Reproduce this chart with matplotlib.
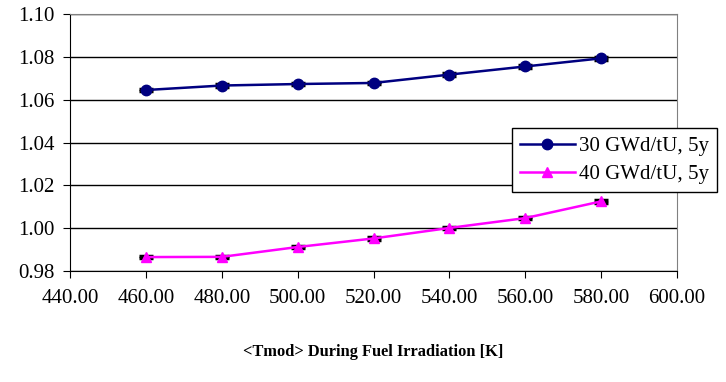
import matplotlib.pyplot as plt
from matplotlib.ticker import FormatStrFormatter

plt.rcParams['font.family'] = ['Liberation Serif', 'DejaVu Serif']

temps = [460, 480, 500, 520, 540, 560, 580]
k30 = [1.0645, 1.0666, 1.0673, 1.0678, 1.0717, 1.0755, 1.0793]
k40 = [0.9865, 0.9866, 0.9912, 0.9952, 1.0001, 1.0047, 1.0125]
err = 0.0006

fig = plt.figure(figsize=(7.26, 3.82), dpi=100)
ax = fig.add_axes([70 / 726, 1 - 271 / 382, 607 / 726, 257 / 382])

ax.errorbar(temps, k30, yerr=err, color='#000080', marker='o', markersize=7.5, lw=1.8,
            ecolor='black', elinewidth=1, capsize=5, capthick=2.5, label='30 GWd/tU, 5y', zorder=3)
ax.errorbar(temps, k40, yerr=err, color='#ff00ff', marker='^', markersize=7.5, lw=1.8,
            ecolor='black', elinewidth=1, capsize=5, capthick=2.5, label='40 GWd/tU, 5y', zorder=3)

ax.set_xlim(440, 600)
ax.set_ylim(0.98, 1.10)
ax.set_xticks(range(440, 601, 20))
ax.set_yticks([0.98, 1.00, 1.02, 1.04, 1.06, 1.08, 1.10])
ax.xaxis.set_major_formatter(FormatStrFormatter('%.2f'))
ax.yaxis.set_major_formatter(FormatStrFormatter('%.2f'))
ax.grid(axis='y', color='black', lw=1)
ax.tick_params(labelsize=15, direction='out', length=5, color='black')
ax.tick_params(axis='x', pad=8)
ax.tick_params(axis='y', pad=6)
for s in ['top', 'right']:
    ax.spines[s].set_color('#808080')
for s in ['left', 'bottom']:
    ax.spines[s].set_color('black')

handles, labels = ax.get_legend_handles_labels()
handles = [h[0] for h in handles]
leg = ax.legend(handles, labels, loc='upper left', bbox_to_anchor=(512 / 726, 1 - 128 / 382),
                bbox_transform=fig.transFigure, fontsize=15, frameon=True, fancybox=False,
                edgecolor='black', framealpha=1, handlelength=2.6, borderpad=0.4,
                labelspacing=0.4, handletextpad=0.2, borderaxespad=0)
leg.get_frame().set_linewidth(1)

fig.text(373 / 726, 1 - 352 / 382, '<Tmod> During Fuel Irradiation [K]', ha='center',
         va='center', fontsize=11.8, fontweight='bold')

fig.savefig('out.png', dpi=100)
